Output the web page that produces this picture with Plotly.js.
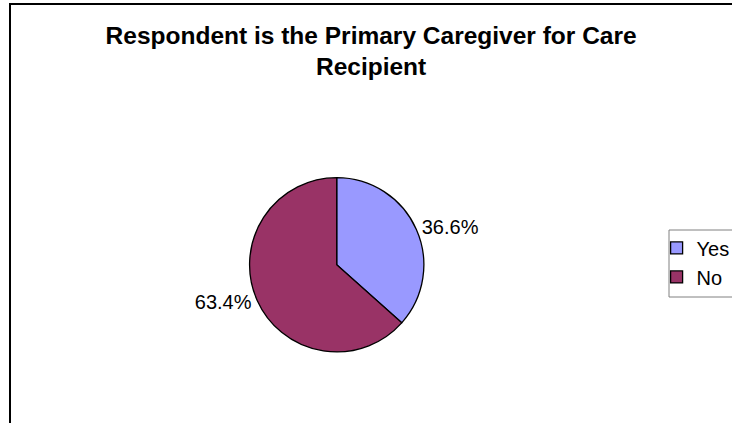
<!DOCTYPE html>
<html><head><meta charset="utf-8">
<script src="https://cdn.plot.ly/plotly-3.0.1.min.js"></script>
<style>
html,body{margin:0;padding:0;background:#fff;}
#wrap{position:relative;width:732px;height:423px;overflow:hidden;}
#frame{position:absolute;left:9px;top:3px;width:740px;height:440px;border-left:2px solid #000;border-top:2px solid #000;pointer-events:none;z-index:5;}
</style></head>
<body><div id="wrap"><div id="chart" style="width:732px;height:423px;"></div><div id="frame"></div></div>
<script>
const categories = ["Yes", "No"];
const values = [36.6, 63.4];
const colors = ["#9999FF", "#993366"];
const titleText = "Respondent is the Primary Caregiver for Care<br>Recipient";

Plotly.newPlot("chart", [{
  type: "pie",
  labels: categories,
  values: values,
  sort: false,
  direction: "clockwise",
  rotation: 0,
  marker: {colors: colors, line: {color: "#000", width: 1.3}},
  textinfo: "percent",
  texttemplate: "%{percent:.1%}",
  textposition: "outside",
  outsidetextfont: {family: "Liberation Sans, Arial", size: 20, color: "#000"},
  domain: {x: [0.2, 0.72], y: [0.168, 0.58]},
  hoverinfo: "none"
}], {
  width: 732, height: 423,
  margin: {l: 0, r: 0, t: 0, b: 0, autoexpand: false},
  paper_bgcolor: "#fff",
  title: {
    text: titleText,
    x: 0.507, xanchor: "center",
    y: 0.897, yanchor: "top",
    font: {family: "Liberation Sans, Arial", size: 24.5, color: "#000", weight: "bold"}
  },
  showlegend: true,
  legend: {
    x: 0.897, xanchor: "left", y: 0.46, yanchor: "top",
    borderwidth: 0, bgcolor: "rgba(0,0,0,0)",
    font: {family: "Liberation Sans, Arial", size: 20, color: "#000"},
    itemwidth: 30, tracegroupgap: 0
  },
  shapes: [{
    type: "rect", xref: "paper", yref: "paper",
    x0: 669/732, x1: 1.05, y0: 1 - 297/423, y1: 1 - 230/423,
    line: {color: "#808080", width: 1}, fillcolor: "rgba(0,0,0,0)", layer: "below"
  }]
}, {staticPlot: true});
</script></body></html>
